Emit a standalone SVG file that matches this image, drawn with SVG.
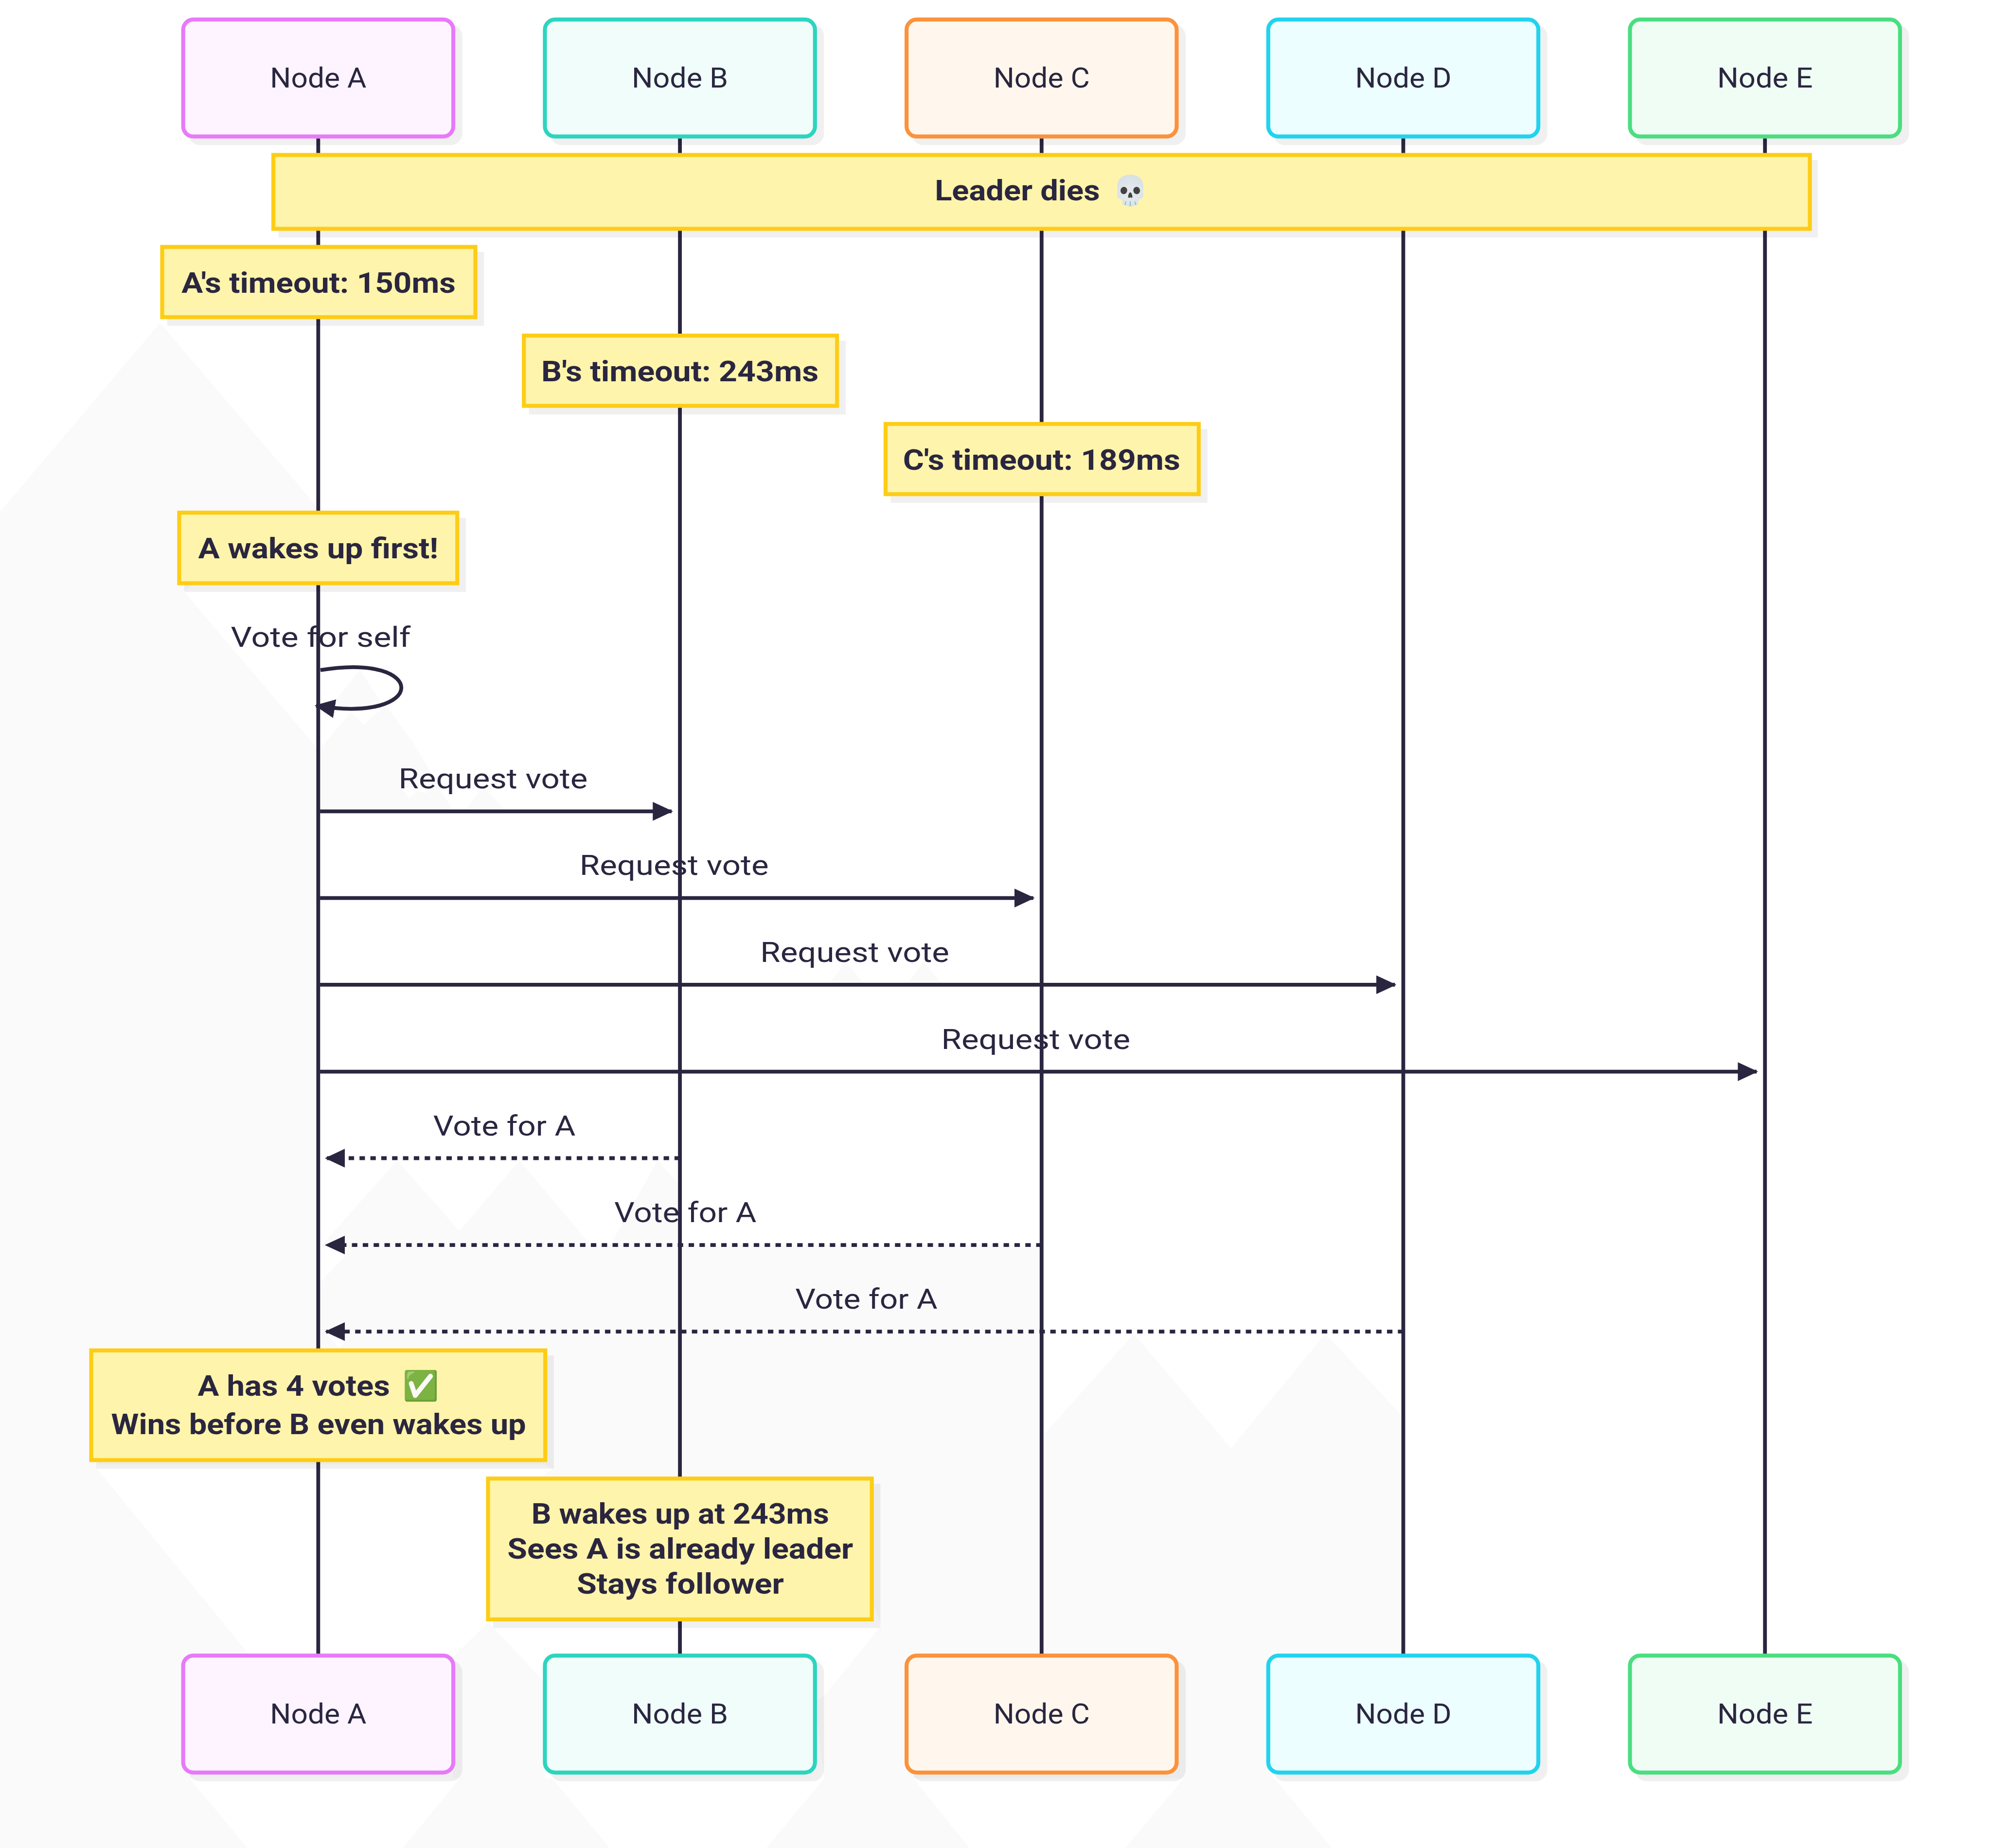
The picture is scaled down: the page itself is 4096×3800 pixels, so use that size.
<svg xmlns="http://www.w3.org/2000/svg" width="4096" height="3800" viewBox="0 0 4096 3800">
<style>
.bg{fill:#fafafa}
.wh{fill:#fff}
text{font-family:Roboto,"Noto Sans","DejaVu Sans",sans-serif;fill:#2a2640}
.lb{font-size:77px;text-anchor:middle}
.nt{font-size:80px;font-weight:700;text-anchor:middle}
.ls{stroke:#2a2640;stroke-width:10.5;fill:none}
.msg{stroke:#2a2640;stroke-width:10.5;fill:none}
.sol{marker-end:url(#arrow)}
.dot{stroke-dasharray:15 15;marker-end:url(#arrow)}
.shadow{fill:#000;fill-opacity:.06}
.note{fill:#fef4ab;stroke:#fdcd15;stroke-width:11}
.nb{stroke-width:11}
</style>
<defs>
<marker id="arrow" markerUnits="userSpaceOnUse" markerWidth="56" markerHeight="52" viewBox="0 0 56 52" refX="52" refY="26" orient="auto"><path d="M0 0L56 26L0 52Z" fill="#2a2640"/></marker>
</defs>
<rect width="4096" height="3800" fill="#fff"/>
<g id="scene" transform="scale(0.74445)">
<g id="background">
<polygon class="bg" points="0,1414 442,892 878,1403 890,1415 509,1630 509,1635 878,2068 884,2068 884,3541 954,3470 964,3439 2880,3439 2880,3966 3132,3684 3400,4000 3661,3684 3872,3910 3872,4600 3700,4850 3513,4903 3679,5105 3107,5105 3270,4912 2523,4912 2678,5105 2116,5105 2277,4912 2250,4700 2277,4684 2434,4490 2400,4400 1500,4100 1497,4078 1527,4056 1500,4045 267,4045 267,4056 684,4565 600,4800 526,4915 684,5105 0,5105"/>
<polygon class="bg" points="884,3445 1097,3205 1269,3400 1435,3205 1633,3441 1684,3441 1817,3205 1882,3278 1882,3441"/>
<polygon class="bg" points="994,1850 915,1950 1065,1957"/>
<polygon class="bg" points="884,2068 968,1968 1005,2001 1065,1948 1141,2050 1249,2236 884,2236"/>
<polygon class="wh" points="1108,2176 1130,2206 1152,2184 1174,2192 1188,2174"/>
<polygon class="bg" points="1287,2236 1335,2172 1394,2236"/>
<polygon class="bg" points="2292,2716 2337,2656 2385,2716"/>
<polygon class="bg" points="2507,2716 2552,2656 2600,2716"/>
<polygon class="bg" points="1250,4912 1270,4912 1112,5105 1684,5105 1526,4912 1505,4912 1505,4650 1491,4632 1357,4490 1351,4478 1263,4565 1250,4580"/>
<polygon class="wh" points="901,3685 937,3724 955,3704"/>
</g>
<g id="lifelines">
<line class="ls" x1="879" y1="382" x2="879" y2="4570"/>
<line class="ls" x1="1878" y1="382" x2="1878" y2="4570"/>
<line class="ls" x1="2877" y1="382" x2="2877" y2="4570"/>
<line class="ls" x1="3876" y1="382" x2="3876" y2="4570"/>
<line class="ls" x1="4875" y1="382" x2="4875" y2="4570"/>
</g>
<g id="node-a-top"><rect class="shadow" x="520" y="68" width="757" height="333" rx="32"/><rect class="nb" x="506" y="54" width="746" height="323" rx="28" fill="#fdf4ff" stroke="#e879f9"/><text class="lb" x="879" y="242" textLength="266" lengthAdjust="spacingAndGlyphs">Node A</text></g>
<g id="node-b-top"><rect class="shadow" x="1519" y="68" width="757" height="333" rx="32"/><rect class="nb" x="1505" y="54" width="746" height="323" rx="28" fill="#f0fdfa" stroke="#2dd4bf"/><text class="lb" x="1878" y="242" textLength="266" lengthAdjust="spacingAndGlyphs">Node B</text></g>
<g id="node-c-top"><rect class="shadow" x="2518" y="68" width="757" height="333" rx="32"/><rect class="nb" x="2504" y="54" width="746" height="323" rx="28" fill="#fff7ed" stroke="#fb923c"/><text class="lb" x="2877" y="242" textLength="266" lengthAdjust="spacingAndGlyphs">Node C</text></g>
<g id="node-d-top"><rect class="shadow" x="3517" y="68" width="757" height="333" rx="32"/><rect class="nb" x="3503" y="54" width="746" height="323" rx="28" fill="#ecfeff" stroke="#22d3ee"/><text class="lb" x="3876" y="242" textLength="266" lengthAdjust="spacingAndGlyphs">Node D</text></g>
<g id="node-e-top"><rect class="shadow" x="4516" y="68" width="757" height="333" rx="32"/><rect class="nb" x="4502" y="54" width="746" height="323" rx="28" fill="#f0fdf4" stroke="#4ade80"/><text class="lb" x="4875" y="242" textLength="264" lengthAdjust="spacingAndGlyphs">Node E</text></g>
<g id="node-a-bottom"><rect class="shadow" x="520" y="4587" width="757" height="333" rx="32"/><rect class="nb" x="506" y="4573" width="746" height="323" rx="28" fill="#fdf4ff" stroke="#e879f9"/><text class="lb" x="879" y="4761" textLength="266" lengthAdjust="spacingAndGlyphs">Node A</text></g>
<g id="node-b-bottom"><rect class="shadow" x="1519" y="4587" width="757" height="333" rx="32"/><rect class="nb" x="1505" y="4573" width="746" height="323" rx="28" fill="#f0fdfa" stroke="#2dd4bf"/><text class="lb" x="1878" y="4761" textLength="266" lengthAdjust="spacingAndGlyphs">Node B</text></g>
<g id="node-c-bottom"><rect class="shadow" x="2518" y="4587" width="757" height="333" rx="32"/><rect class="nb" x="2504" y="4573" width="746" height="323" rx="28" fill="#fff7ed" stroke="#fb923c"/><text class="lb" x="2877" y="4761" textLength="266" lengthAdjust="spacingAndGlyphs">Node C</text></g>
<g id="node-d-bottom"><rect class="shadow" x="3517" y="4587" width="757" height="333" rx="32"/><rect class="nb" x="3503" y="4573" width="746" height="323" rx="28" fill="#ecfeff" stroke="#22d3ee"/><text class="lb" x="3876" y="4761" textLength="266" lengthAdjust="spacingAndGlyphs">Node D</text></g>
<g id="node-e-bottom"><rect class="shadow" x="4516" y="4587" width="757" height="333" rx="32"/><rect class="nb" x="4502" y="4573" width="746" height="323" rx="28" fill="#f0fdf4" stroke="#4ade80"/><text class="lb" x="4875" y="4761" textLength="264" lengthAdjust="spacingAndGlyphs">Node E</text></g>
<g id="connectors">
<path class="msg sol" d="M885 1851C1185 1801 1185 2001 873 1949"/>
<line class="msg sol" x1="884" y1="2241" x2="1855" y2="2241"/>
<line class="msg sol" x1="884" y1="2480.5" x2="2854" y2="2480.5"/>
<line class="msg sol" x1="884" y1="2720" x2="3853" y2="2720"/>
<line class="msg sol" x1="884" y1="2960" x2="4852" y2="2960"/>
<line class="msg dot" x1="1878" y1="3199" x2="901" y2="3199"/>
<line class="msg dot" x1="2877" y1="3439" x2="901" y2="3439"/>
<line class="msg dot" x1="3876" y1="3678" x2="901" y2="3678"/>
</g>
<g id="labels">
<text class="lb" x="886" y="1787" textLength="497" lengthAdjust="spacingAndGlyphs">Vote for self</text>
<text class="lb" x="1362" y="2177" textLength="522" lengthAdjust="spacingAndGlyphs">Request vote</text>
<text class="lb" x="1862" y="2417" textLength="522" lengthAdjust="spacingAndGlyphs">Request vote</text>
<text class="lb" x="2361" y="2657" textLength="522" lengthAdjust="spacingAndGlyphs">Request vote</text>
<text class="lb" x="2861" y="2897" textLength="522" lengthAdjust="spacingAndGlyphs">Request vote</text>
<text class="lb" x="1393" y="3136" textLength="393" lengthAdjust="spacingAndGlyphs">Vote for A</text>
<text class="lb" x="1893" y="3376" textLength="393" lengthAdjust="spacingAndGlyphs">Vote for A</text>
<text class="lb" x="2393" y="3615" textLength="393" lengthAdjust="spacingAndGlyphs">Vote for A</text>
</g>
<g id="note-leader"><rect class="shadow" x="769" y="442" width="4252" height="214"/><rect class="note" x="755" y="428" width="4244" height="204"/><text class="nt" style="text-anchor:start" y="554"><tspan x="2582" textLength="456" lengthAdjust="spacingAndGlyphs">Leader dies</tspan> <tspan x="3072">💀</tspan></text></g>
<g id="note-a-timeout"><rect class="shadow" x="462" y="696" width="875" height="204"/><rect class="note" x="448" y="682" width="865" height="194"/><text class="nt" x="880" y="808" textLength="757" lengthAdjust="spacingAndGlyphs">A's timeout: 150ms</text></g>
<g id="note-b-timeout"><rect class="shadow" x="1461" y="941" width="875" height="204"/><rect class="note" x="1447" y="927" width="865" height="194"/><text class="nt" x="1878" y="1053" textLength="766" lengthAdjust="spacingAndGlyphs">B's timeout: 243ms</text></g>
<g id="note-c-timeout"><rect class="shadow" x="2460" y="1185" width="875" height="204"/><rect class="note" x="2446" y="1171" width="865" height="194"/><text class="nt" x="2877" y="1298" textLength="766" lengthAdjust="spacingAndGlyphs">C's timeout: 189ms</text></g>
<g id="note-a-wakes"><rect class="shadow" x="509" y="1430" width="778" height="205"/><rect class="note" x="495" y="1416" width="768" height="195"/><text class="nt" x="879" y="1542" textLength="663" lengthAdjust="spacingAndGlyphs">A wakes up first!</text></g>
<g id="note-a-votes"><rect class="shadow" x="266" y="3744" width="1264" height="313"/><rect class="note" x="252" y="3730" width="1254" height="303"/><text class="nt" style="text-anchor:start" y="3855"><tspan x="546" textLength="531" lengthAdjust="spacingAndGlyphs">A has 4 votes</tspan> <tspan x="1112">✅</tspan></text><text class="nt" x="880" y="3961" textLength="1146" lengthAdjust="spacingAndGlyphs">Wins before B even wakes up</text></g>
<g id="note-b-wakes"><rect class="shadow" x="1362" y="4098" width="1070" height="399"/><rect class="note" x="1348" y="4084" width="1060" height="389"/><text class="nt" x="1879" y="4208" textLength="822" lengthAdjust="spacingAndGlyphs">B wakes up at 243ms</text><text class="nt" x="1879" y="4305" textLength="955" lengthAdjust="spacingAndGlyphs">Sees A is already leader</text><text class="nt" x="1879" y="4402" textLength="572" lengthAdjust="spacingAndGlyphs">Stays follower</text></g>
</g>
</svg>
